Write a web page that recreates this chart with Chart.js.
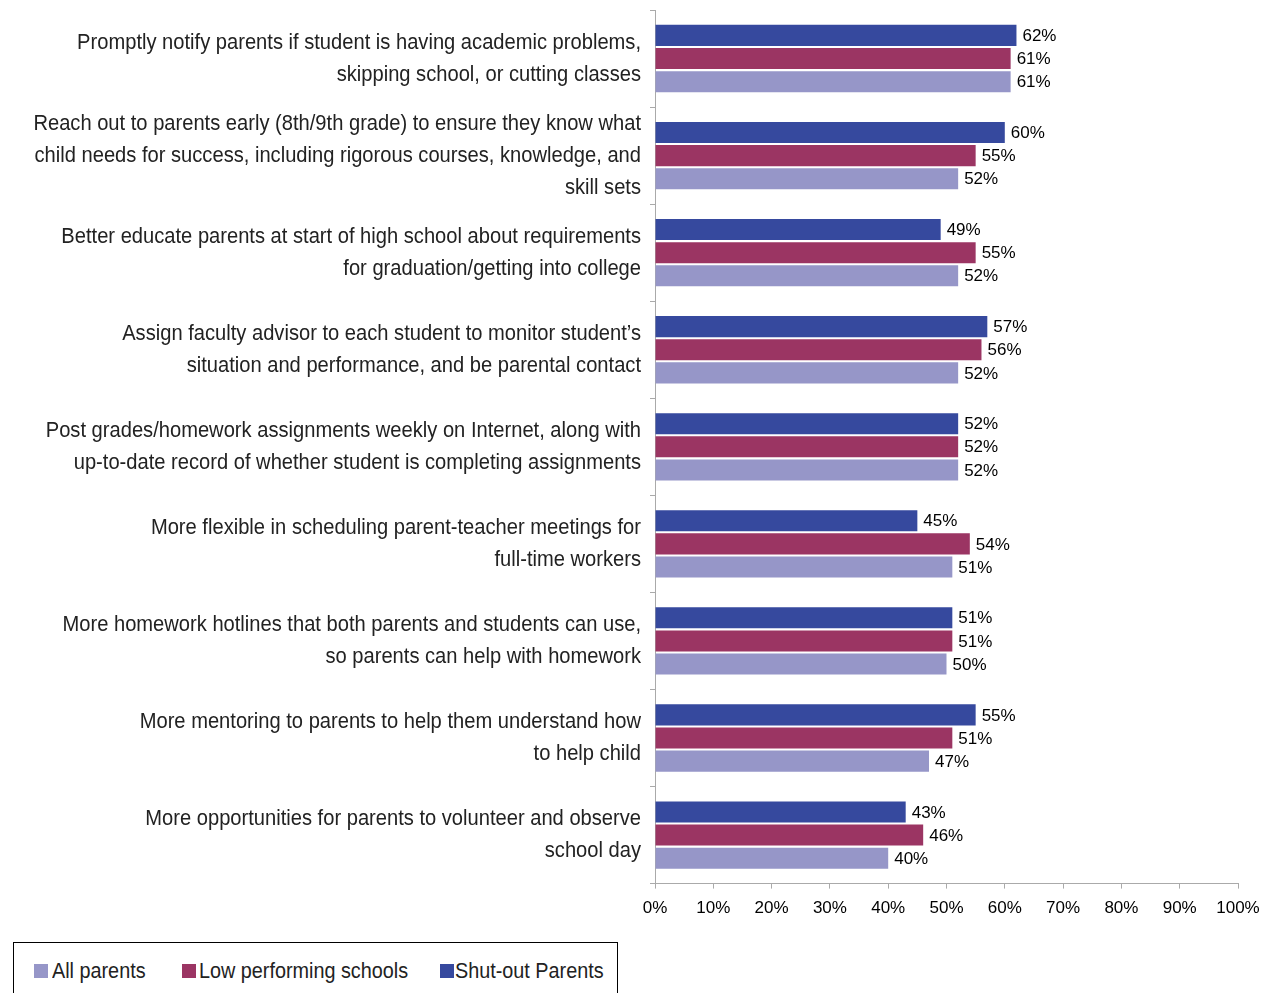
<!DOCTYPE html>
<html>
<head>
<meta charset="utf-8">
<script src="https://cdn.jsdelivr.net/npm/chart.js@4.4.1/dist/chart.umd.min.js"></script>
<style>
  html, body { margin: 0; padding: 0; background: #fff; overflow: hidden; }
  #wrap { position: absolute; left: 0; top: 0; width: 1261px; height: 940px; }
  #legend {
    position: absolute; left: 13px; top: 942px; width: 605px; height: 70px;
    border: 1px solid #000; box-sizing: border-box;
    font-family: "Liberation Sans", Arial, sans-serif; font-size: 22px; color: #222;
  }
  #legend .box { position: absolute; top: 21px; width: 14px; height: 14px; }
  #legend .txt { position: absolute; top: 14px; line-height: 28px; white-space: nowrap;
    transform: scaleX(0.9); transform-origin: 0 50%; }
</style>
</head>
<body>
<div id="wrap"><canvas id="myChart"></canvas></div>
<div id="legend"></div>
<script>
const categories = [
  ['Promptly notify parents if student is having academic problems,', 'skipping school, or cutting classes'],
  ['Reach out to parents early (8th/9th grade) to ensure they know what', 'child needs for success, including rigorous courses, knowledge, and', 'skill sets'],
  ['Better educate parents at start of high school about requirements', 'for graduation/getting into college'],
  ['Assign faculty advisor to each student to monitor student\u2019s', 'situation and performance, and be parental contact'],
  ['Post grades/homework assignments weekly on Internet, along with', 'up-to-date record of whether student is completing assignments'],
  ['More flexible in scheduling parent-teacher meetings for', 'full-time workers'],
  ['More homework hotlines that both parents and students can use,', 'so parents can help with homework'],
  ['More mentoring to parents to help them understand how', 'to help child'],
  ['More opportunities for parents to volunteer and observe', 'school day']
];
const shutOut = [62, 60, 49, 57, 52, 45, 51, 55, 43];
const lowPerforming = [61, 55, 55, 56, 52, 54, 51, 51, 46];
const allParents = [61, 52, 52, 52, 52, 51, 50, 47, 40];
const xTicks = [0, 10, 20, 30, 40, 50, 60, 70, 80, 90, 100];

const arial = '"Liberation Sans", Arial, sans-serif';

// value labels at the end of each bar
const barLabels = {
  id: 'barLabels',
  afterDatasetsDraw(chart) {
    const ctx = chart.ctx;
    ctx.save();
    ctx.font = '17px ' + arial;
    ctx.fillStyle = '#000';
    ctx.textAlign = 'left';
    ctx.textBaseline = 'middle';
    chart.data.datasets.forEach((ds, i) => {
      chart.getDatasetMeta(i).data.forEach((bar, j) => {
        ctx.fillText(ds.data[j] + '%', bar.x + 6, bar.y + 1);
      });
    });
    ctx.restore();
  }
};

// category labels, drawn condensed and right aligned next to the axis
const categoryLabels = {
  id: 'categoryLabels',
  afterDraw(chart) {
    const ctx = chart.ctx;
    const y = chart.scales.y;
    const right = y.right - 14;
    ctx.save();
    ctx.font = '22px ' + arial;
    ctx.fillStyle = '#222';
    ctx.textAlign = 'right';
    ctx.textBaseline = 'middle';
    chart.data.labels.forEach((lines, i) => {
      const cy = y.getPixelForValue(i);
      lines.forEach((line, k) => {
        const ly = cy + (k - (lines.length - 1) / 2) * 32;
        ctx.save();
        ctx.translate(right, ly);
        ctx.scale(0.915, 1);
        ctx.fillText(line, 0, 0);
        ctx.restore();
      });
    });
    ctx.restore();
  }
};

const data = {
  labels: categories,
  datasets: [
    { label: 'Shut-out Parents', data: shutOut, backgroundColor: '#36499e' },
    { label: 'Low performing schools', data: lowPerforming, backgroundColor: '#9b3563' },
    { label: 'All parents', data: allParents, backgroundColor: '#9696c8' }
  ]
};

const config = {
  type: 'bar',
  data: data,
  options: {
    indexAxis: 'y',
    responsive: true,
    maintainAspectRatio: false,
    animation: false,
    categoryPercentage: 0.715,
    barPercentage: 0.91,
    layout: { padding: { top: 10, right: 23, bottom: 11, left: 0 } },
    plugins: {
      legend: { display: false },
      tooltip: { enabled: false }
    },
    scales: {
      x: {
        min: 0,
        max: 100,
        afterBuildTicks: (s) => { s.ticks = xTicks.map(v => ({ value: v })); },
        afterFit: (s) => { s.paddingLeft = 0; s.paddingRight = 0; },
        ticks: {
          callback: (v) => v + '%',
          font: { family: arial, size: 17 },
          color: '#000',
          padding: 10,
          maxRotation: 0
        },
        grid: { drawOnChartArea: false, drawTicks: true, tickLength: 5, color: '#aaa' },
        border: { color: '#aaa' }
      },
      y: {
        afterFit: (s) => { s.width = 655; s.paddingTop = 0; s.paddingBottom = 0; },
        ticks: { display: false },
        grid: { drawOnChartArea: false, drawTicks: true, tickLength: 5, color: '#aaa', offset: true },
        border: { color: '#aaa' }
      }
    }
  },
  plugins: [barLabels, categoryLabels]
};

const myChart = new Chart(document.getElementById('myChart'), config);

// legend box, built from the datasets (reverse order like the original)
const legendBox = [20, 168, 426];
const legendText = [38, 185, 441];
const legend = document.getElementById('legend');
data.datasets.slice().reverse().forEach((ds, i) => {
  const box = document.createElement('div');
  box.className = 'box';
  box.style.left = legendBox[i] + 'px';
  box.style.background = ds.backgroundColor;
  legend.appendChild(box);
  const txt = document.createElement('div');
  txt.className = 'txt';
  txt.style.left = legendText[i] + 'px';
  txt.textContent = ds.label;
  legend.appendChild(txt);
});
</script>
</body>
</html>
